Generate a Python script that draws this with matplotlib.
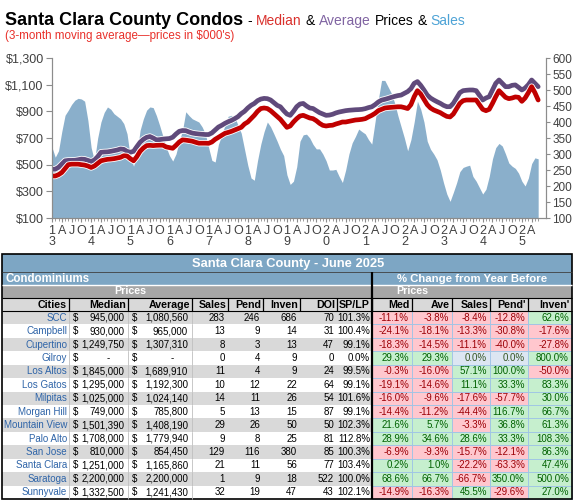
import matplotlib.pyplot as plt
import numpy as np
import matplotlib.patheffects as pe
from matplotlib.patches import Rectangle

plt.rcParams['font.family'] = ['Liberation Sans', 'DejaVu Sans']

# monthly 3-month moving averages, Jan 2013 .. Jun 2025 (prices in $000's)
median_price = [
    415, 415, 425, 441, 470, 500, 504, 504, 504, 500, 497, 490,        # 2013
    479, 490, 510, 529, 535, 540, 542, 545, 550, 555, 567, 565,        # 2014
    545, 529, 560, 600, 625, 643, 645, 643, 645, 646, 646, 633,        # 2015
    628, 623, 645, 670, 686, 684, 680, 676, 668, 661, 661, 661,        # 2016
    660, 670, 690, 705, 720, 735, 742, 750, 760, 770, 780, 805,        # 2017
    820, 845, 870, 900, 921, 925, 921, 905, 883, 860, 840, 810,        # 2018
    780, 790, 820, 845, 865, 870, 860, 850, 845, 830, 810, 795,        # 2019
    790, 794, 796, 805, 812, 820, 820, 825, 830, 835, 837, 840,        # 2020
    845, 858, 870, 885, 905, 915, 925, 928, 930, 932, 934, 934,        # 2021
    928, 921, 950, 1010, 1055, 1030, 990, 950, 925, 910, 900, 890,     # 2022
    875, 862, 858, 880, 920, 960, 980, 985, 985, 985, 985, 950,        # 2023
    915, 905, 915, 960, 1010, 1055, 1030, 1005, 995, 1000, 1008, 1005, # 2024
    975, 1000, 1040, 1085, 1040, 985,                                  # 2025
]
average_price = [
    466, 466, 480, 505, 529, 532, 532, 533, 537, 542, 540, 532,
    524, 535, 560, 593, 595, 596, 600, 605, 610, 618, 615, 600,
    593, 600, 635, 668, 690, 705, 711, 700, 686, 688, 692, 694,
    696, 706, 730, 750, 756, 755, 745, 737, 733, 730, 728, 726,
    726, 738, 760, 782, 795, 810, 822, 832, 845, 860, 883, 900,
    925, 945, 959, 980, 992, 997, 995, 985, 965, 945, 934, 905,
    880, 870, 900, 935, 955, 959, 940, 925, 921, 905, 890, 880,
    870, 872, 878, 888, 895, 900, 905, 908, 910, 912, 913, 915,
    920, 928, 934, 950, 970, 984, 990, 997, 1005, 1012, 1018, 1022,
    1035, 1048, 1070, 1110, 1123, 1095, 1060, 1022, 1000, 985, 972, 960,
    945, 935, 935, 960, 1000, 1040, 1055, 1058, 1060, 1060, 1055, 1020,
    985, 1000, 1010, 1060, 1110, 1135, 1110, 1085, 1085, 1095, 1098, 1080,
    1060, 1075, 1100, 1135, 1110, 1085,
]
sales = [
    321, 290, 310, 370, 421, 437, 455, 468, 474, 472, 465, 405,
    320, 279, 350, 400, 430, 447, 440, 426, 418, 410, 395, 363,
    290, 262, 300, 374, 410, 437, 447, 445, 420, 389, 355, 321,
    295, 278, 300, 340, 374, 432, 420, 410, 405, 400, 385, 363,
    320, 280, 275, 330, 358, 390, 418, 421, 416, 390, 365, 315,
    265, 225, 218, 280, 331, 370, 400, 385, 363, 340, 315, 295,
    235, 205, 215, 260, 340, 360, 362, 350, 330, 316, 316, 300,
    279, 250, 250, 252, 230, 211, 250, 300, 335, 355, 378, 370,
    363, 345, 331, 400, 470, 530, 530, 510, 490, 460, 420, 385,
    350, 310, 345, 400, 465, 440, 400, 340, 315, 300, 282, 250,
    210, 175, 152, 180, 210, 245, 258, 262, 265, 230, 215, 195,
    175, 190, 230, 285, 320, 333, 325, 300, 272, 262, 255, 240,
    215, 200, 225, 270, 288, 285,
]

# table data
cities = ["SCC", "Campbell", "Cupertino", "Gilroy", "Los Altos", "Los Gatos", "Milpitas",
          "Morgan Hill", "Mountain View", "Palo Alto", "San Jose", "Santa Clara",
          "Saratoga", "Sunnyvale"]
median = [945000, 930000, 1249750, None, 1845000, 1295000, 1025000, 749000, 1501390,
          1708000, 810000, 1251000, 2200000, 1332500]
average = [1080560, 965000, 1307310, None, 1689910, 1192300, 1024140, 785800, 1408190,
           1779940, 854450, 1165860, 2200000, 1241430]
n_sales = [283, 13, 8, 0, 11, 10, 14, 5, 29, 9, 129, 21, 1, 32]
pend = [246, 9, 3, 4, 4, 12, 11, 13, 26, 8, 116, 11, 9, 19]
inven = [686, 14, 13, 9, 9, 22, 26, 15, 50, 25, 380, 56, 18, 47]
doi = [70, 31, 47, 0, 24, 64, 54, 87, 50, 81, 85, 77, 522, 43]
sp_lp = [101.3, 100.4, 99.1, 0.0, 99.5, 99.1, 101.6, 99.1, 102.3, 112.8, 100.3, 103.4, 100.0, 102.1]
chg_med = [-11.1, -24.1, -18.3, 29.3, -0.3, -19.1, -16.0, -14.4, 21.6, 28.9, -6.9, 0.2, 68.6, -14.9]
chg_ave = [-3.8, -18.1, -14.5, 29.3, -16.0, -14.6, -9.6, -11.2, 5.7, 34.6, -9.3, 1.0, 66.7, -16.3]
chg_sales = [-8.4, -13.3, -11.1, 0.0, 57.1, 11.1, -17.6, -44.4, -3.3, 28.6, -15.7, -22.2, -66.7, 45.5]
chg_pend = [-12.8, -30.8, -40.0, 0.0, 100.0, 33.3, -57.7, 116.7, 36.8, 33.3, -12.1, -63.3, 350.0, -29.6]
chg_inven = [62.6, -17.6, -27.8, 800.0, -50.0, 83.3, 30.0, 66.7, 61.3, 108.3, 86.3, 47.4, 500.0, 27.0]

W, H = 575, 501
fig = plt.figure(figsize=(W / 100, H / 100), dpi=100)

# ---- chart ----
months = np.arange(len(median_price))
ax = fig.add_axes([52 / W, 1 - 218 / H, 494 / W, 160 / H])
ax2 = ax.twinx()
ax2.fill_between(months, 100, sales, color='#8AAFCB', lw=0)
halo = [pe.Stroke(linewidth=4.6, foreground='white'), pe.Normal()]
ax.plot(months, average_price, color='#604A7B', lw=3.4, path_effects=halo, solid_capstyle='round')
ax.plot(months, median_price, color='#C00000', lw=3.4, path_effects=halo, solid_capstyle='round')
ax.set_zorder(ax2.get_zorder() + 1)
ax.patch.set_visible(False)

ax.set_xlim(0, 151.4)
ax.set_ylim(100, 1300)
ax2.set_ylim(100, 600)
ax.set_yticks(range(100, 1301, 200), [f"${v:,}" for v in range(100, 1301, 200)])
ax2.set_yticks(range(100, 601, 50))

qpos = [m for m in months if m % 3 == 0]
qlab = []
for m in qpos:
    if m % 12 == 0:
        yy = str(13 + m // 12)
        qlab.append(yy[0] + "\n" + yy[1])
    else:
        qlab.append({3: "A", 6: "J", 9: "O"}[m % 12])
ax.set_xticks(qpos, qlab)
ax.set_xticks(months, minor=True)

for a in (ax, ax2):
    a.spines['top'].set_visible(False)
    for s in ('left', 'right', 'bottom'):
        a.spines[s].set_color('#8C8C8C')
        a.spines[s].set_linewidth(0.8)
ax.tick_params(axis='y', direction='out', length=4, width=0.8, color='#8C8C8C',
               labelsize=9, labelcolor='#404040', pad=2)
ax2.tick_params(axis='y', direction='out', length=3, width=0.8, color='#8C8C8C',
                labelsize=8.5, labelcolor='#404040', pad=1.5)
ax.tick_params(axis='x', which='major', direction='out', length=3, width=0.8, color='#8C8C8C',
               labelsize=9, labelcolor='#404040', pad=2)
ax.tick_params(axis='x', which='minor', direction='out', length=2, width=0.6, color='#8C8C8C')
for lab in ax.get_xticklabels():
    lab.set_linespacing(0.95)

# ---- titles ----
r = fig.canvas.get_renderer()
title_parts = [("Santa Clara County Condos", 'black', 13, 'bold', 4),
               ("-", 'black', 10, 'normal', 4), ("Median", '#D9302C', 10, 'normal', 4),
               ("&", 'black', 10, 'normal', 4), ("Average", '#8064A2', 10, 'normal', 4),
               ("Prices", 'black', 10, 'normal', 4), ("&", 'black', 10, 'normal', 4),
               ("Sales", '#4DA3D6', 10, 'normal', 0)]
x = 5
for txt, col, size, weight, gap in title_parts:
    t = fig.text(x / W, 1 - 25 / H, txt, color=col, fontsize=size, fontweight=weight,
                 va='baseline', ha='left')
    x = t.get_window_extent(r).x1 + gap
fig.text(5 / W, 1 - 39.5 / H, "(3-month moving average\u2014prices in $000's)",
         color='#E8302A', fontsize=8.4, va='baseline', ha='left')

# ---- table ----
tab = fig.add_axes([0, 0, 1, 1])
tab.set_xlim(0, W)
tab.set_ylim(H, 0)
tab.axis('off')


def box(x0, x1, y0, y1, fc, ec='none', lw=0):
    tab.add_patch(Rectangle((x0, y0), x1 - x0, y1 - y0, facecolor=fc, edgecolor=ec, linewidth=lw))


def line(xs, ys, c='black', lw=0.8):
    tab.plot(xs, ys, color=c, lw=lw, solid_capstyle='butt')


cols = [2, 69, 128, 192, 228, 263, 300, 337, 372, 412, 452, 490, 528, 572]
y_title, y_condo, y_prices, y_head, y_data, y_end = 254, 272, 285, 298, 311, 499
row_h = (y_end - y_data) / len(cities)
blue_hdr = '#7DA6C4'
gray_row = '#D9D9D9'

box(2, 572, y_title, y_condo, blue_hdr)
tab.text(288, (y_title + y_condo) / 2 + 0.5, "Santa Clara County - June 2025", color='white',
         fontsize=9.3, fontweight='bold', ha='center', va='center')
box(2, 572, y_condo, y_prices, blue_hdr)
tab.text(5, (y_condo + y_prices) / 2, "Condominiums", color='white', fontsize=8.3,
         fontweight='bold', ha='left', va='center')
tab.text(472, (y_condo + y_prices) / 2, "% Change from Year Before", color='white',
         fontsize=8.2, fontweight='bold', ha='center', va='center')
box(2, 572, y_prices, y_head, '#A6A6A6')
tab.text((cols[1] + cols[3]) / 2, (y_prices + y_head) / 2, "Prices", color='white',
         fontsize=7.7, fontweight='bold', ha='center', va='center')
tab.text((cols[8] + cols[10]) / 2, (y_prices + y_head) / 2, "Prices", color='white',
         fontsize=7.7, fontweight='bold', ha='center', va='center')
box(2, 572, y_head, y_data, gray_row)
headers = ["Cities", "Median", "Average", "Sales", "Pend", "Inven", "DOI", "SP/LP",
           "Med", "Ave", "Sales", "Pend'", "Inven'"]
for k, h in enumerate(headers):
    tab.text(cols[k + 1] - 2, (y_head + y_data) / 2, h, fontsize=7.7, fontweight='bold',
             ha='right', va='center', color='black')
    if k < len(headers) - 1:
        line([cols[k + 1]] * 2, [y_head, y_data], lw=0.9)

fs = 7
changes = [chg_med, chg_ave, chg_sales, chg_pend, chg_inven]
for i, city in enumerate(cities):
    y0 = y_data + i * row_h
    yc = y0 + row_h / 2
    box(2, 372, y0, y0 + row_h, gray_row if i % 2 == 0 else 'white')
    tab.text(cols[1] - 2, yc, city, color='#2E64A8', fontsize=fs, ha='right', va='center')
    for v, c0, c1 in ((median[i], cols[1], cols[2]), (average[i], cols[2], cols[3])):
        tab.text(c0 + 4, yc, "$", fontsize=fs, ha='left', va='center')
        if v is None:
            tab.text(c1 - 18, yc, "-", fontsize=fs, ha='right', va='center')
        else:
            tab.text(c1 - 4, yc, f"{v:,}", fontsize=fs, ha='right', va='center')
    for k, v in enumerate([n_sales[i], pend[i], inven[i], doi[i]]):
        tab.text(cols[4 + k] - 3, yc, str(v), fontsize=fs, ha='right', va='center')
    tab.text(cols[8] - 2, yc, f"{sp_lp[i]:.1f}%", fontsize=fs, ha='right', va='center')
    for j, ser in enumerate(changes):
        v = ser[i]
        if v > 0:
            fc, tc = '#C6EFCE', '#006100'
        elif v < 0:
            fc, tc = '#FFC7CE', '#9C0006'
        else:
            fc, tc = '#DCE6F2', '#375623'
        box(cols[8 + j], cols[9 + j], y0, y0 + row_h, fc, ec='#9DC3E6', lw=0.6)
        tab.text(cols[9 + j] - 3, yc, f"{v:.1f}%", color=tc, fontsize=fs, ha='right', va='center')
    for xv in cols[1:4]:
        line([xv, xv], [y0, y0 + row_h], c='#BFBFBF', lw=0.6)

line([2, 572], [y_condo, y_condo], c='#404040', lw=0.6)
line([2, 572], [y_prices, y_prices], c='white', lw=1.0)
line([2, 572], [y_head, y_head], lw=0.8)
line([2, 572], [y_data, y_data], lw=0.8)
line([372, 372], [y_condo, y_end], lw=1.6)
tab.add_patch(Rectangle((2, y_title), 570, y_end - y_title, facecolor='none',
                        edgecolor='black', linewidth=1.2))

fig.savefig('out.png', dpi=100)
